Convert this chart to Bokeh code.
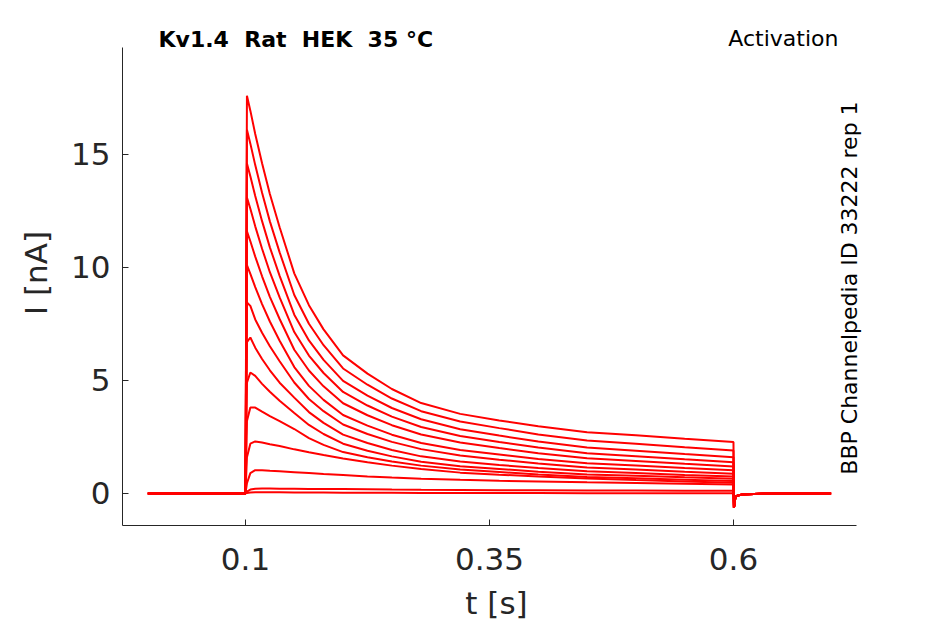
import math
from bokeh.plotting import figure
from bokeh.models import Range1d, Label, FixedTicker
from bokeh.embed import file_html
from bokeh.resources import INLINE

# ---- data (current in nA, time in s) ----
t_pre = [0.0, 0.1]
i_pre = [0.0, 0.0]
t_step = [0.1015, 0.105, 0.11, 0.117, 0.125, 0.135, 0.15, 0.165, 0.18, 0.2,
          0.225, 0.25, 0.28, 0.32, 0.36, 0.4, 0.45, 0.5, 0.55, 0.6]
t_tail = [0.6005, 0.602, 0.605, 0.612, 0.63, 0.7]
i_tail = [-0.63, -0.15, -0.08, -0.04, -0.02, 0.0]

sweep_01 = [17.6, 16.94, 15.91, 14.61, 13.25, 11.78, 9.74, 8.33, 7.26, 6.11,
            5.30, 4.62, 4.0, 3.52, 3.23, 2.97, 2.71, 2.57, 2.42, 2.28]
sweep_02 = [16.1, 15.48, 14.53, 13.31, 12.04, 10.67, 8.78, 7.51, 6.56, 5.53,
            4.81, 4.20, 3.64, 3.18, 2.89, 2.61, 2.34, 2.20, 2.04, 1.9]
sweep_03 = [14.6, 14.04, 13.16, 12.05, 10.89, 9.63, 7.91, 6.77, 5.91, 4.98,
            4.33, 3.78, 3.28, 2.84, 2.56, 2.30, 2.03, 1.89, 1.74, 1.6]
sweep_04 = [13.1, 12.60, 11.82, 10.83, 9.79, 8.68, 7.14, 6.10, 5.33, 4.49,
            3.89, 3.40, 2.94, 2.54, 2.28, 2.03, 1.78, 1.65, 1.51, 1.38]
sweep_05 = [11.6, 11.16, 10.48, 9.61, 8.70, 7.72, 6.36, 5.44, 4.74, 3.99,
            3.46, 3.02, 2.61, 2.25, 2.01, 1.78, 1.56, 1.44, 1.31, 1.19]
sweep_06 = [10.1, 9.72, 9.13, 8.38, 7.61, 6.76, 5.59, 4.76, 4.14, 3.47,
            3.0, 2.60, 2.23, 1.92, 1.72, 1.52, 1.33, 1.23, 1.12, 1.02]
sweep_07 = [8.45, 8.3, 7.70, 7.11, 6.51, 5.85, 4.91, 4.18, 3.64, 3.05,
            2.63, 2.28, 1.96, 1.68, 1.49, 1.32, 1.15, 1.06, 0.96, 0.87]
sweep_08 = [6.7, 6.9, 6.45, 5.95, 5.45, 4.9, 4.24, 3.60, 3.12, 2.60,
            2.23, 1.92, 1.64, 1.41, 1.26, 1.12, 0.98, 0.90, 0.82, 0.75]
sweep_09 = [4.9, 5.35, 5.2, 4.85, 4.5, 4.1, 3.56, 3.03, 2.63, 2.20,
            1.89, 1.64, 1.40, 1.20, 1.08, 0.96, 0.84, 0.78, 0.71, 0.65]
sweep_10 = [3.2, 3.8, 3.8, 3.62, 3.42, 3.2, 2.85, 2.45, 2.15, 1.83,
            1.60, 1.41, 1.23, 1.06, 0.95, 0.84, 0.73, 0.67, 0.61, 0.55]
sweep_11 = [1.6, 2.2, 2.3, 2.25, 2.18, 2.1, 1.95, 1.82, 1.70, 1.55,
            1.38, 1.23, 1.08, 0.92, 0.83, 0.75, 0.66, 0.59, 0.53, 0.47]
sweep_12 = [0.45, 0.9, 1.03, 1.02, 1.0, 0.98, 0.94, 0.9, 0.86, 0.81,
            0.75, 0.7, 0.65, 0.6, 0.56, 0.53, 0.49, 0.46, 0.43, 0.4]
sweep_13 = [0.08, 0.17, 0.21, 0.22, 0.22, 0.21, 0.21, 0.2, 0.2, 0.19,
            0.18, 0.17, 0.16, 0.15, 0.14, 0.14, 0.13, 0.13, 0.12, 0.12]
sweep_14 = [0.02, 0.04, 0.05, 0.05, 0.05, 0.05, 0.04, 0.04, 0.04, 0.03,
            0.03, 0.03, 0.02, 0.02, 0.02, 0.02, 0.01, 0.01, 0.01, 0.01]

sweeps = [sweep_01, sweep_02, sweep_03, sweep_04, sweep_05, sweep_06, sweep_07,
          sweep_08, sweep_09, sweep_10, sweep_11, sweep_12, sweep_13, sweep_14]

x_ticks = [0.1, 0.35, 0.6]
y_ticks = [0, 5, 10, 15]
x_axis_limits = (-0.026, 0.726)
y_axis_limits = (-1.42, 19.73)

title_text = "Kv1.4 \u00a0Rat \u00a0HEK \u00a035 °C"
protocol_text = "Activation"
side_text = "BBP Channelpedia ID 33222 rep 1"

FONT = "DejaVu Sans"
GRAY = "#262626"

p = figure(width=945, height=624, output_backend="svg", toolbar_location=None,
           x_range=Range1d(-0.026, 0.7404), y_range=Range1d(-1.42, 20.93),
           min_border_left=122, min_border_right=75, min_border_top=20, min_border_bottom=99)
p.outline_line_color = None
p.xgrid.visible = False
p.ygrid.visible = False
p.background_fill_color = "white"
p.border_fill_color = "white"

for s in sweeps:
    xs = t_pre + t_step + t_tail
    ys = i_pre + s + i_tail
    p.line(xs, ys, line_color="#ff0000", line_width=2)

for ax in (p.xaxis[0], p.yaxis[0]):
    ax.axis_line_color = GRAY
    ax.major_tick_line_color = GRAY
    ax.major_tick_in = 6
    ax.major_tick_out = 0
    ax.minor_tick_line_color = None
    ax.major_label_text_font = FONT
    ax.major_label_text_font_size = "31px"
    ax.major_label_text_color = GRAY
    ax.axis_label_text_font = FONT
    ax.axis_label_text_font_size = "31px"
    ax.axis_label_text_color = GRAY
    ax.axis_label_text_font_style = "normal"

p.xaxis[0].bounds = x_axis_limits
p.yaxis[0].bounds = y_axis_limits
p.xaxis[0].ticker = FixedTicker(ticks=x_ticks)
p.yaxis[0].ticker = FixedTicker(ticks=y_ticks)
p.xaxis[0].major_label_overrides = {0.1: "0.1", 0.35: "0.35", 0.6: "0.6"}
p.xaxis[0].axis_label = "t [s]"
p.yaxis[0].axis_label = "I [nA]"
p.xaxis[0].major_label_standoff = 22
p.xaxis[0].axis_label_standoff = 12
p.yaxis[0].major_label_standoff = 12
p.yaxis[0].axis_label_standoff = 14

p.add_layout(Label(x=0.0109, y=20.08, text=title_text, text_font=FONT, text_font_size="22px",
                   text_font_style="bold", text_color="black", text_baseline="alphabetic",
                   text_align="left"))
p.add_layout(Label(x=0.7076, y=20.12, text=protocol_text, text_font=FONT, text_font_size="22px",
                   text_color="black", text_baseline="alphabetic", text_align="right"))
p.add_layout(Label(x=0.7188, y=9.09, text=side_text, text_font=FONT, text_font_size="22px",
                   text_color="black", text_baseline="middle", text_align="center",
                   angle=math.pi / 2))

open("out.html", "w").write(file_html(p, INLINE))
